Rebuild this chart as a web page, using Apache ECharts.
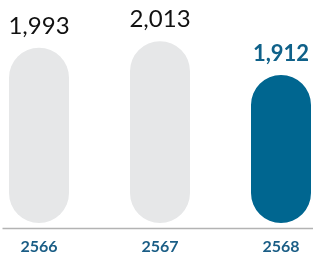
<!DOCTYPE html>
<html><head><meta charset="utf-8">
<script src="https://cdn.jsdelivr.net/npm/echarts@6/dist/echarts.min.js"></script>
<style>html,body{margin:0;padding:0;background:#fff;}#c{width:313px;height:255px;}</style>
</head><body><div id="c"></div>
<script>
const categories = ['2566', '2567', '2568'];
const values = [1993, 2013, 1912];
const highlightIndex = 2;

const chart = echarts.init(document.getElementById('c'), null, {renderer: 'canvas'});
const FONT = 'Lato, "Open Sans", sans-serif';
chart.setOption({
  animation: false,
  grid: {left: 39, right: 32, top: 12, bottom: 31},
  graphic: [{
    type: 'line', left: 0, top: 226, silent: true,
    shape: {x1: 0, y1: 0, x2: 313, y2: 0},
    style: {stroke: '#b3b3b3', lineWidth: 1.5}
  }],
  xAxis: {
    type: 'category', data: categories, boundaryGap: false,
    axisLine: {show: false},
    axisTick: {show: false},
    axisLabel: {color: '#1b5e86', fontWeight: 'bold', fontSize: 16, fontFamily: FONT, margin: 16}
  },
  yAxis: {type: 'value', min: 1470, max: 2100, show: false, splitLine: {show: false}},
  series: [{
    type: 'bar', barWidth: 60,
    data: values.map((v, i) => ({
      value: v,
      itemStyle: {color: i === highlightIndex ? '#006690' : '#e6e7e8', borderRadius: 30},
      label: i === highlightIndex
        ? {color: '#0f6189', fontWeight: 'bold', fontSize: 22}
        : {color: '#111', fontWeight: 'normal', fontSize: 24}
    })),
    label: {
      show: true, position: 'top', distance: 10, fontFamily: FONT,
      formatter: p => p.value.toLocaleString('en-US')
    }
  }]
});
</script></body></html>
